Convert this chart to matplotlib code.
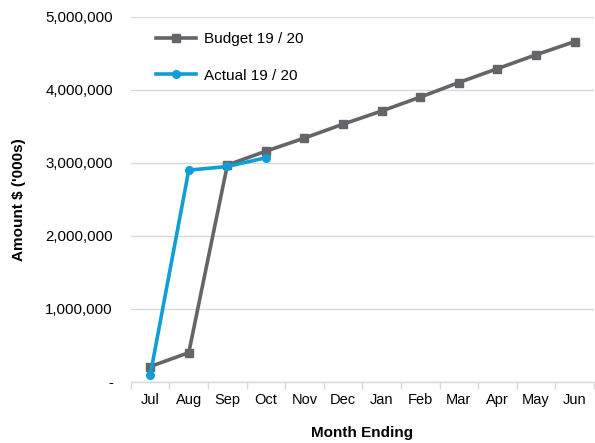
import matplotlib
matplotlib.use("Agg")
import matplotlib.pyplot as plt
from matplotlib.ticker import FuncFormatter, FixedLocator
import numpy as np

months = ["Jul", "Aug", "Sep", "Oct", "Nov", "Dec", "Jan", "Feb", "Mar", "Apr", "May", "Jun"]
budget = [210000, 400000, 2970000, 3160000, 3340000, 3530000, 3710000, 3900000, 4100000, 4290000, 4480000, 4660000]
actual = [90000, 2900000, 2950000, 3070000]
y_ticks = [0, 1000000, 2000000, 3000000, 4000000, 5000000]

plt.rcParams['font.family'] = ['Liberation Sans', 'DejaVu Sans']

fig = plt.figure(figsize=(5.95, 4.43), dpi=100)
ax = fig.add_axes([0.22, 0.138, 0.778, 0.824])

x = np.arange(len(months))
grey = "#636569"
blue = "#0F9ED5"
ax.plot(x, budget, color=grey, lw=2.6, marker="s", ms=6, label="Budget 19 / 20", zorder=3)
ax.plot(x[:len(actual)], actual, color=blue, lw=2.6, marker="o", ms=5.5, label="Actual 19 / 20", zorder=4)

ax.set_xlim(-0.5, len(months) - 0.5)
ax.set_ylim(0, 5000000)
ax.yaxis.set_major_locator(FixedLocator(y_ticks))
ax.yaxis.set_major_formatter(FuncFormatter(lambda v, p: "-" if v == 0 else f"{int(v):,}"))
ax.grid(axis="y", color="#d9d9d9", lw=1)
ax.set_axisbelow(True)

ax.set_xticks(x)
ax.set_xticklabels(months)
ax.set_xticks(np.arange(-0.5, len(months), 1), minor=True)
ax.tick_params(axis="x", which="major", length=0, pad=8, labelsize=10.5)
ax.tick_params(axis="x", which="minor", length=5, color="#d9d9d9", width=1)
ax.tick_params(axis="y", length=0, pad=13, labelsize=10.8)

for s in ["top", "right", "left"]:
    ax.spines[s].set_visible(False)
ax.spines["bottom"].set_color("#d9d9d9")
ax.spines["bottom"].set_linewidth(1)

ax.set_xlabel("Month Ending", fontweight="bold", fontsize=11, labelpad=14)
ax.set_ylabel("Amount $ ('000s)", fontweight="bold", fontsize=11, labelpad=14)

ax.legend(loc="upper left", bbox_to_anchor=(0.025, 0.995), frameon=False, fontsize=11,
          handlelength=2.6, labelspacing=1.45, handletextpad=0.5)

fig.savefig("out.png", dpi=100)
